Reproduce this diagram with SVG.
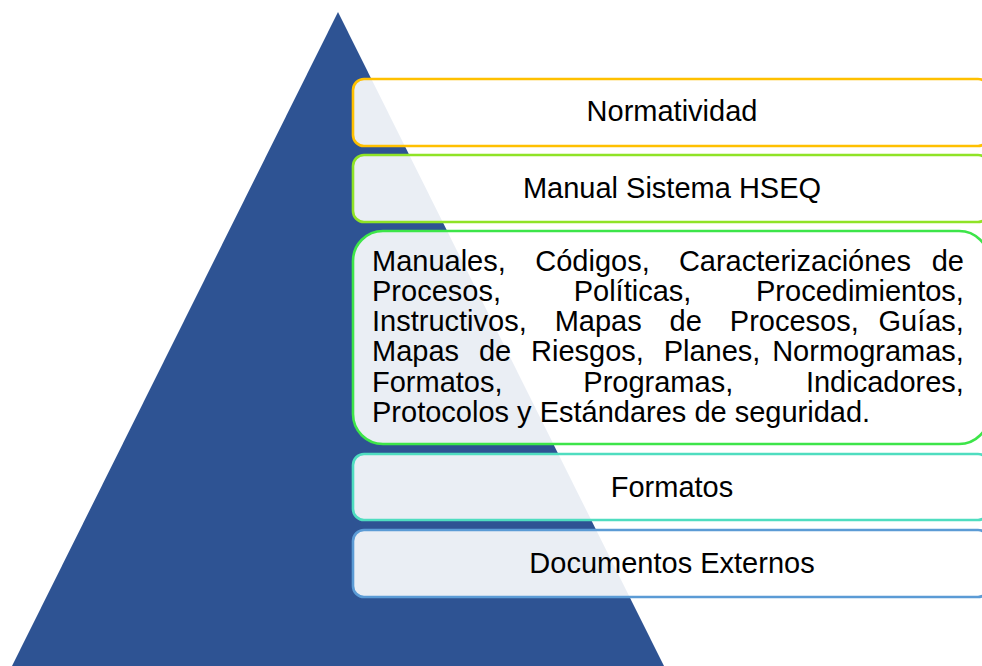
<svg xmlns="http://www.w3.org/2000/svg" width="982" height="666" viewBox="0 0 982 666">
<style>
.box{fill:#ffffff;fill-opacity:0.9;stroke-width:2.6}
.t{font-family:"Liberation Sans",Arial,sans-serif;font-size:29px;fill:#000000}
.c{text-anchor:middle}
.e{text-anchor:end}
</style>
<rect width="982" height="666" fill="#ffffff"/>
<g id="pyramid"><polygon points="338,12 12,666 664,666" fill="#2E5393"/></g>
<g id="n1">
<rect class="box" x="353" y="79" width="636" height="67" rx="11" stroke="#FFC000"/>
<text class="t c" x="672" y="121">Normatividad</text>
</g>
<g id="n2">
<rect class="box" x="353" y="155" width="636" height="67" rx="11" stroke="#8FE326"/>
<text class="t c" x="672" y="198">Manual Sistema HSEQ</text>
</g>
<g id="n3">
<rect class="box" x="353" y="231" width="636" height="213" rx="30" stroke="#3DE549"/>
<text class="t">
<tspan x="372" y="270.7">Manuales,</tspan><tspan x="535.3" y="270.7">Códigos,</tspan><tspan x="678.9" y="270.7">Caracterizaciónes</tspan><tspan class="e" x="972" y="270.7">de</tspan>
<tspan x="372" y="300.9">Procesos,</tspan><tspan x="573.7" y="300.9">Políticas,</tspan><tspan class="e" x="972" y="300.9">Procedimientos,</tspan>
<tspan x="372" y="331.1">Instructivos,</tspan><tspan x="554.7" y="331.1">Mapas</tspan><tspan x="669.6" y="331.1">de</tspan><tspan x="729.8" y="331.1">Procesos,</tspan><tspan class="e" x="972" y="331.1">Guías,</tspan>
<tspan x="372" y="361.3">Mapas</tspan><tspan x="478.9" y="361.3">de</tspan><tspan x="531" y="361.3">Riesgos,</tspan><tspan x="663.7" y="361.3">Planes,</tspan><tspan class="e" x="972" y="361.3">Normogramas,</tspan>
<tspan x="372" y="391.5">Formatos,</tspan><tspan x="583.3" y="391.5">Programas,</tspan><tspan class="e" x="972" y="391.5">Indicadores,</tspan>
<tspan x="372" y="421.7">Protocolos y Estándares de seguridad.</tspan>
</text>
</g>
<g id="n4">
<rect class="box" x="353" y="454" width="636" height="66" rx="11" stroke="#4FDDC0"/>
<text class="t c" x="672" y="497">Formatos</text>
</g>
<g id="n5">
<rect class="box" x="353" y="530" width="636" height="67" rx="11" stroke="#5B9BD5"/>
<text class="t c" x="672" y="573">Documentos Externos</text>
</g>
<g id="connectors"></g>
</svg>
